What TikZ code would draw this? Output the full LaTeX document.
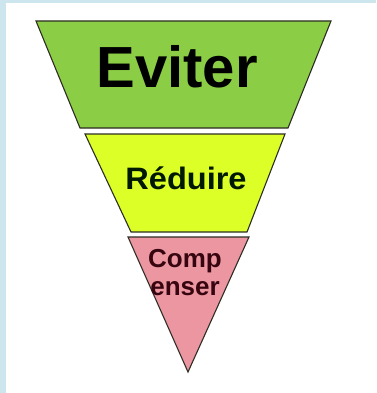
\documentclass[tikz,border=0pt]{standalone}
\usepackage{fontspec}
\setmainfont{Liberation Sans}
\definecolor{evgreen}{RGB}{140,205,70}
\definecolor{redyellow}{RGB}{220,255,40}
\definecolor{cppink}{RGB}{236,150,162}
\definecolor{frameblue}{RGB}{205,230,238}
\definecolor{cptext}{RGB}{55,5,15}
\definecolor{edgegray}{RGB}{45,45,35}

\begin{document}
\begin{tikzpicture}[x=1pt,y=-1pt]
\useasboundingbox (0,0) rectangle (376,393);
% Background
\fill[frameblue] (0,0) rectangle (376,393);
\fill[white] (6,3) rectangle (376,393);

% Bands
\draw[line width=1.1pt,edgegray,fill=evgreen] (36,21) -- (331,21) -- (288,128) -- (80,128) -- cycle;
\draw[line width=1.1pt,edgegray,fill=redyellow] (85,134) -- (285,134) -- (247,232) -- (131,232) -- cycle;
\draw[line width=1.1pt,edgegray,fill=cppink] (128,237) -- (249,237) -- (188,372) -- cycle;

% Labels
\node[inner sep=0,font=\bfseries\fontsize{58}{60}\selectfont] (eviter) at (177,67) {Eviter};
\node[inner sep=0,anchor=base,xscale=1.05,font=\bfseries\fontsize{31}{32}\selectfont,text={black!90!green}] (reduire) at (186,189) {Réduire};
\node[inner sep=0,align=center,text=cptext,font=\bfseries\fontsize{26}{28}\selectfont] (compenser) at (185,273) {Comp\\enser};
\end{tikzpicture}
\end{document}
